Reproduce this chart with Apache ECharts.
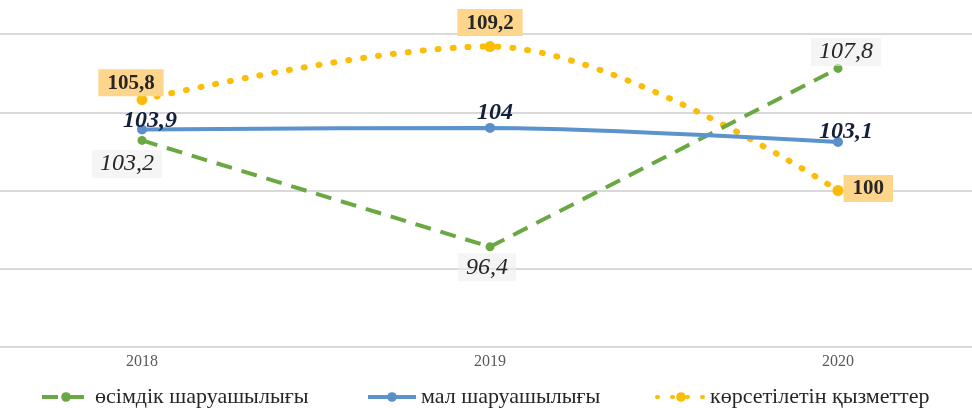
<!DOCTYPE html>
<html>
<head>
<meta charset="utf-8">
<script src="https://cdn.jsdelivr.net/npm/echarts@6/dist/echarts.min.js"></script>
<style>
  html, body { margin: 0; padding: 0; background: #fff; overflow: hidden; width: 972px; height: 408px; }
  /* the plot area runs past both edges of the picture, so the canvas is shifted left */
  #chart { position: absolute; left: -32px; top: 0; width: 1076px; height: 408px; }
</style>
</head>
<body>
<div id="chart"></div>
<script>
const years = ['2018', '2019', '2020'];
const cropValues = [103.2, 96.4, 107.8];
const livestockValues = [103.9, 104, 103.1];
const serviceValues = [105.8, 109.2, 100];
const seriesNames = ['өсімдік шаруашылығы', 'мал шаруашылығы', 'көрсетілетін қызметтер'];

const serif = '"Liberation Serif", "DejaVu Serif", serif';
const fmt = p => String(p.value).replace('.', ',');
const shift = 32;

// label placement per point (index order follows years)
const cropLabelPos = [
  { position: 'bottom', offset: [-15, 0] },
  { position: 'bottom', offset: [-3, -3] },
  { position: 'top', offset: [8, 7] }
];
const livestockLabelPos = [
  { position: 'top', offset: [8, 15] },
  { position: 'top', offset: [5, 9] },
  { position: 'top', offset: [8, 14] }
];
const serviceLabelPos = [
  { position: 'top', offset: [-11, 7] },
  { position: 'top', offset: [0, 0] },
  { position: 'right', offset: [-5, -2] }
];

const withLabels = (values, pos) => values.map((v, i) => ({ value: v, label: pos[i] }));

const legendAt = (name, left) => ({
  top: 381,
  left: left + shift,
  itemWidth: 48,
  itemHeight: 12,
  lineStyle: { width: 4 },
  textStyle: { fontFamily: serif, fontSize: 22, color: '#262626' },
  data: [name]
});

const chart = echarts.init(document.getElementById('chart'));
chart.setOption({
  backgroundColor: '#fff',
  animation: false,
  grid: { left: 0, right: shift, top: 34, bottom: 61 },
  legend: [
    legendAt(seriesNames[0], 35),
    legendAt(seriesNames[1], 361),
    legendAt(seriesNames[2], 650)
  ],
  xAxis: {
    type: 'category',
    data: years,
    boundaryGap: true,
    axisTick: { show: false },
    axisLine: { show: true, lineStyle: { color: '#d9d9d9', width: 2 } },
    axisLabel: { fontFamily: serif, fontSize: 16, color: '#595959', margin: 7 }
  },
  yAxis: {
    type: 'value',
    min: 90,
    max: 110,
    interval: 5,
    axisLabel: { show: false },
    axisLine: { show: false },
    axisTick: { show: false },
    splitLine: { lineStyle: { color: '#d9d9d9', width: 2 } }
  },
  series: [
    {
      name: seriesNames[0],
      type: 'line',
      data: withLabels(cropValues, cropLabelPos),
      symbol: 'circle',
      symbolSize: 9,
      itemStyle: { color: '#6aa843' },
      lineStyle: { color: '#6aa843', width: 4, type: [16, 10] },
      label: {
        show: true,
        formatter: fmt,
        fontFamily: serif,
        fontStyle: 'italic',
        fontSize: 24,
        color: '#262626',
        backgroundColor: 'rgba(238,238,238,0.6)',
        padding: [2, 8]
      },
      z: 2
    },
    {
      name: seriesNames[1],
      type: 'line',
      data: withLabels(livestockValues, livestockLabelPos),
      smooth: 0.3,
      symbol: 'circle',
      symbolSize: 10,
      itemStyle: { color: '#5b8fc9' },
      lineStyle: { color: '#5b93cc', width: 4 },
      label: {
        show: true,
        formatter: fmt,
        fontFamily: serif,
        fontStyle: 'italic',
        fontWeight: 'bold',
        fontSize: 24,
        color: '#14203a',
        padding: [2, 4]
      },
      z: 3
    },
    {
      name: seriesNames[2],
      type: 'line',
      data: withLabels(serviceValues, serviceLabelPos),
      smooth: 0.35,
      symbol: 'circle',
      symbolSize: 11,
      itemStyle: { color: '#fbbd08' },
      lineStyle: { color: '#fbbd08', width: 6, type: [1, 14], cap: 'round' },
      label: {
        show: true,
        formatter: fmt,
        fontFamily: serif,
        fontWeight: 'bold',
        fontSize: 21,
        color: '#262626',
        backgroundColor: '#fdd68c',
        padding: [4, 9, 2, 9]
      },
      z: 1
    }
  ]
});
</script>
</body>
</html>
